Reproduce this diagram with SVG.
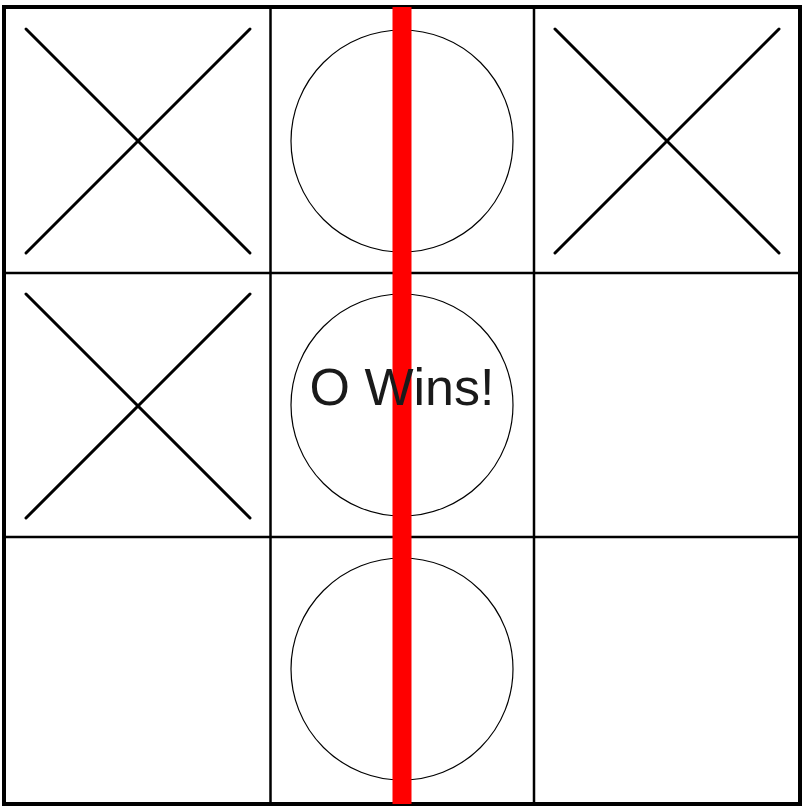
<svg xmlns="http://www.w3.org/2000/svg" width="805" height="811" viewBox="0 0 805 811">
<style>
.grid{stroke:#000;stroke-width:2.5;fill:none}
.x{stroke:#000;stroke-width:3;stroke-linecap:round}
.o{stroke:#000;stroke-width:1.2;fill:none}
.win{stroke:#ff0000;stroke-width:19}
.label{font-family:"Liberation Sans",Arial,sans-serif;font-size:52px;fill:#1a1a1a}
</style>
<rect width="805" height="811" fill="#fff"/>
<g id="board">
<rect class="grid" x="4" y="7" width="796" height="797" style="stroke-width:4"/>
<line class="grid" x1="270.5" y1="7" x2="270.5" y2="804"/>
<line class="grid" x1="534" y1="7" x2="534" y2="804"/>
<line class="grid" x1="4" y1="273" x2="800" y2="273"/>
<line class="grid" x1="4" y1="537" x2="800" y2="537"/>
</g>
<g id="cell-0-0"><line class="x" x1="26" y1="29" x2="250" y2="253"/><line class="x" x1="250" y1="29" x2="26" y2="253"/></g>
<g id="cell-0-1"><circle class="o" cx="402" cy="141" r="111"/></g>
<g id="cell-0-2"><line class="x" x1="555" y1="29" x2="779" y2="253"/><line class="x" x1="779" y1="29" x2="555" y2="253"/></g>
<g id="cell-1-0"><line class="x" x1="26" y1="294" x2="250" y2="518"/><line class="x" x1="250" y1="294" x2="26" y2="518"/></g>
<g id="cell-1-1"><circle class="o" cx="402" cy="405" r="111"/></g>
<g id="cell-2-1"><circle class="o" cx="402" cy="669" r="111"/></g>
<g id="win-line"><line class="win" x1="402" y1="7" x2="402" y2="804"/></g>
<g id="label"><text class="label" x="402" y="405" text-anchor="middle">O Wins!</text></g>
</svg>
